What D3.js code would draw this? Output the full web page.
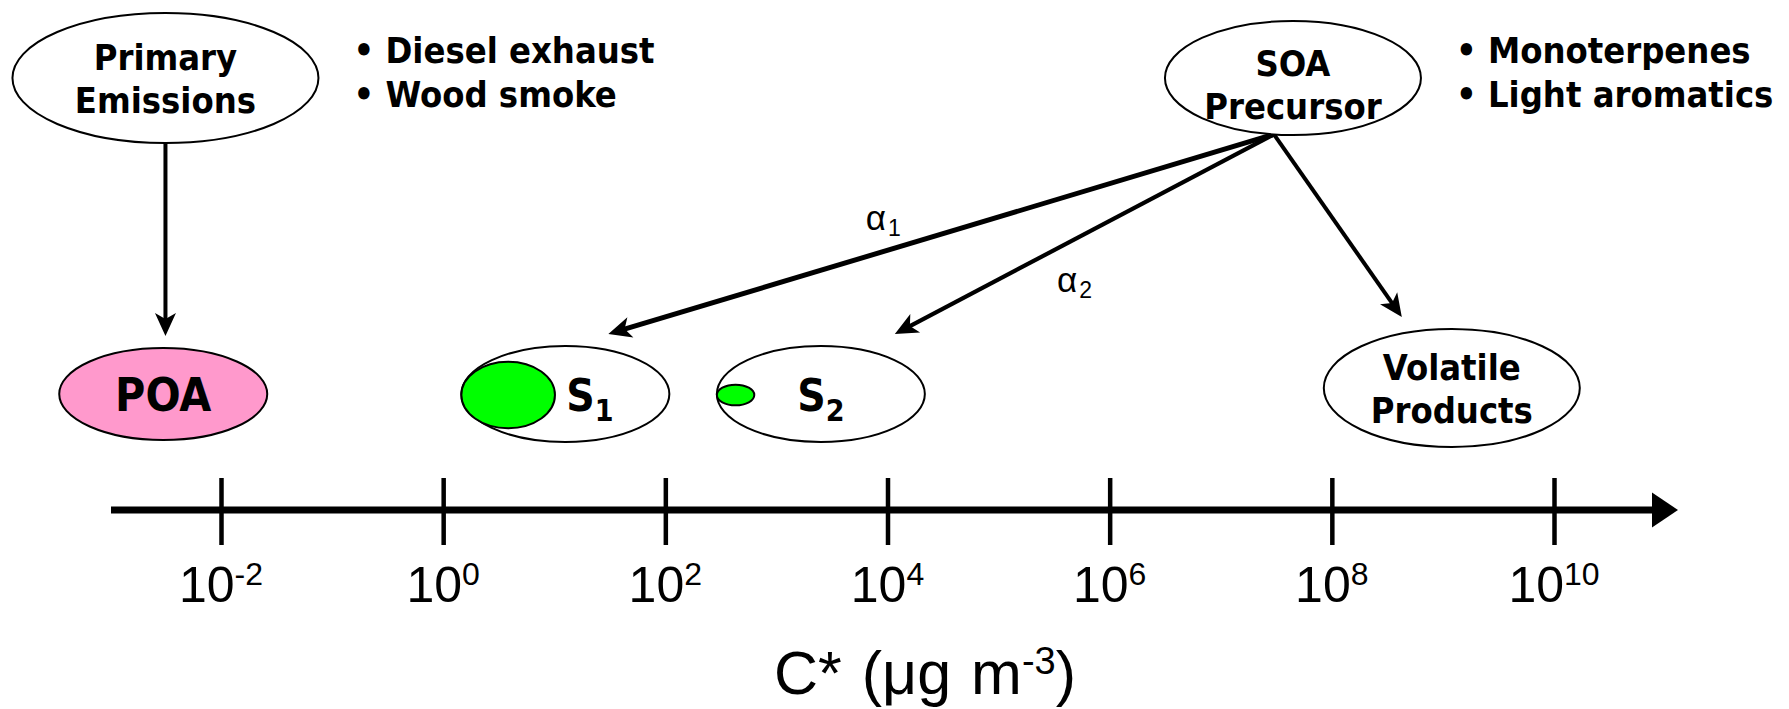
<!DOCTYPE html>
<html><head><meta charset="utf-8">
<script src="https://cdn.jsdelivr.net/npm/d3@7"></script>
<style>body{margin:0;background:#fff}svg{display:block}</style>
</head><body><svg id="c" width="1789" height="709"></svg>
<script>
// ---------- DATA ----------
const tickExponents = [-2, 0, 2, 4, 6, 8, 10];
const tickBase = "10";
const axisTitle = ["C* (\u03bcg m", "-3", ")"];
const nodeNames = ["Primary Emissions", "SOA Precursor", "POA", "S1", "S2", "Volatile Products"];
const nodeLines = [["Primary", "Emissions"], ["SOA", "Precursor"], ["POA"], ["S", "1"], ["S", "2"], ["Volatile", "Products"]];
const nodeLogC = [-2.5, 7.65, -2.52, 1.1, 3.4, 9.08];
const nodeTier = ["source", "source", "aerosol", "aerosol", "aerosol", "gas"];
const condensedRatio = [0, 0, 0, 0.45, 0.18, 0];
const examplesPrimary = ["Diesel exhaust", "Wood smoke"];
const examplesSOA = ["Monoterpenes", "Light aromatics"];
const linkSource = ["Primary Emissions", "SOA Precursor", "SOA Precursor", "SOA Precursor"];
const linkTarget = ["POA", "S1", "S2", "Volatile Products"];
const linkLabel = [null, ["\u03b1", "1"], ["\u03b1", "2"], null];

// ---------- LAYOUT / STYLE ----------
const boldFont = "'DejaVu Sans Condensed','DejaVu Sans',sans-serif";
const axisFont = "'Liberation Sans',Arial,sans-serif";
const svg = d3.select("#c");

const x = d3.scaleLog().domain([1e-2, 1e10]).range([221, 1554]);
const tierY = d3.scaleOrdinal().domain(["source", "aerosol", "gas"]).range([78, 394, 388]);
const axisY = 510;

const size = {
  "Primary Emissions": [153, 65], "SOA Precursor": [128, 57], "POA": [104, 46],
  "S1": [104, 48], "S2": [104, 48], "Volatile Products": [128, 59]
};
const fill = {"POA": "#ff99cc"};
const textDy = {"SOA Precursor": 6};
const startOff = {"Primary Emissions": 0, "SOA Precursor": -19};
const endOff = {"POA": 4, "S1": 43, "S2": 74, "Volatile Products": -50};
const linkWidth = [4, 5, 4.2, 4];
const labelT = [0, 0.587, 0.526, 0];
const labelOff = [0, -22, 53, 0];

const nodes = nodeNames.map((n, i) => ({
  name: n, lines: nodeLines[i], cx: x(Math.pow(10, nodeLogC[i])), cy: tierY(nodeTier[i]),
  rx: size[n][0], ry: size[n][1], ratio: condensedRatio[i]
}));
const byName = Object.fromEntries(nodes.map(d => [d.name, d]));

// marker
svg.append("defs").append("marker")
  .attr("id", "ah").attr("markerUnits", "userSpaceOnUse")
  .attr("viewBox", "-16 -11 26 22").attr("markerWidth", 26).attr("markerHeight", 22)
  .attr("refX", 0).attr("refY", 0).attr("orient", "auto")
  .append("path").attr("d", "M9,0 L-14,-10.5 L-8,0 L-14,10.5 Z").attr("fill", "#000");

// ---------- AXIS ----------
const axisG = svg.append("g").attr("transform", `translate(0,${axisY})`);
const axis = d3.axisBottom(x).tickValues(tickExponents.map(e => Math.pow(10, e))).tickSize(0).tickFormat("");
axisG.call(axis);
axisG.select(".domain").remove();
axisG.append("line").attr("x1", 111).attr("x2", 1656).attr("y1", 0).attr("y2", 0)
  .attr("stroke", "#000").attr("stroke-width", 7);
axisG.append("path").attr("d", "M1652,-17.5 L1678,0 L1652,17.5 Z").attr("fill", "#000");
axisG.selectAll(".tick line").attr("y1", -32).attr("y2", 35).attr("stroke", "#000").attr("stroke-width", 4.5);

const lbl = svg.append("g").selectAll("text").data(tickExponents).join("text")
  .attr("x", e => x(Math.pow(10, e))).attr("y", 602)
  .attr("text-anchor", "middle").attr("font-family", axisFont).attr("font-size", 50).attr("fill", "#000");
lbl.append("tspan").text(tickBase);
lbl.append("tspan").attr("font-size", 32).attr("dy", -17).text(e => e < 0 ? "-" + (-e) : String(e));

const t = svg.append("text").attr("x", 925).attr("y", 694).attr("text-anchor", "middle")
  .attr("font-family", axisFont).attr("font-size", 61).attr("word-spacing", 3).attr("fill", "#000");
t.append("tspan").text(axisTitle[0]);
t.append("tspan").attr("font-size", 38).attr("dy", -20).text(axisTitle[1]);
t.append("tspan").attr("dy", 20).text(axisTitle[2]);

// ---------- LINKS ----------
linkSource.forEach((s, i) => {
  const a = byName[s], b = byName[linkTarget[i]];
  const x1 = a.cx + startOff[s], y1 = a.cy + a.ry * Math.sqrt(1 - Math.pow(startOff[s] / a.rx, 2));
  const tx = (s === "Primary Emissions") ? a.cx : b.cx + endOff[b.name];
  const ty = b.cy - b.ry - 12;
  const dx = tx - x1, dy = ty - y1, L = Math.hypot(dx, dy);
  svg.append("line").attr("x1", x1).attr("y1", y1)
    .attr("x2", tx - dx / L * 9).attr("y2", ty - dy / L * 9)
    .attr("stroke", "#000").attr("stroke-width", linkWidth[i])
    .attr("marker-end", "url(#ah)");
  if (linkLabel[i]) {
    const lx = x1 + dx * labelT[i], ly = y1 + dy * labelT[i] + labelOff[i];
    const tt = svg.append("text").attr("x", lx).attr("y", ly)
      .attr("text-anchor", "middle").attr("font-family", axisFont).attr("font-size", 35).attr("fill", "#000");
    tt.append("tspan").text(linkLabel[i][0]);
    tt.append("tspan").attr("font-size", 23).attr("dx", 2).attr("dy", 6).text(linkLabel[i][1]);
  }
});

// ---------- NODES ----------
const g = svg.append("g").selectAll("g").data(nodes).join("g");
g.append("ellipse").attr("cx", d => d.cx).attr("cy", d => d.cy).attr("rx", d => d.rx).attr("ry", d => d.ry)
  .attr("fill", d => fill[d.name] || "#fff").attr("stroke", "#000").attr("stroke-width", 2);
g.filter(d => d.ratio > 0).append("ellipse")
  .attr("cx", d => d.cx - d.rx + d.rx * d.ratio).attr("cy", d => d.cy + 1)
  .attr("rx", d => d.rx * d.ratio).attr("ry", d => d.rx * d.ratio * (d.ratio > 0.3 ? 0.71 : 0.55))
  .attr("fill", "#00ff00").attr("stroke", "#000").attr("stroke-width", 2);

g.each(function (d) {
  const s = d3.select(this);
  const ddy = textDy[d.name] || 0;
  if (d.name === "S1" || d.name === "S2") {
    const greenRight = d.cx - d.rx + 2 * d.rx * d.ratio;
    const cx = Math.max(d.cx, greenRight + 35);
    const tt = s.append("text").attr("x", cx).attr("y", d.cy + 17).attr("text-anchor", "middle")
      .attr("font-family", boldFont).attr("font-weight", "bold").attr("font-size", 44).attr("fill", "#000");
    tt.append("tspan").text(d.lines[0]);
    tt.append("tspan").attr("font-size", 30).attr("dy", 10).text(d.lines[1]);
  } else if (d.lines.length === 1) {
    s.append("text").attr("x", d.cx).attr("y", d.cy + 17).attr("text-anchor", "middle")
      .attr("font-family", boldFont).attr("font-weight", "bold").attr("font-size", 46).attr("fill", "#000")
      .text(d.lines[0]);
  } else {
    s.selectAll("text").data(d.lines).join("text")
      .attr("x", d.cx).attr("y", (l, i) => d.cy - 8 + ddy + i * 43).attr("text-anchor", "middle")
      .attr("font-family", boldFont).attr("font-weight", "bold").attr("font-size", 36).attr("fill", "#000")
      .text(l => l);
  }
});

// ---------- EXAMPLE LISTS ----------
[[byName["Primary Emissions"], examplesPrimary], [byName["SOA Precursor"], examplesSOA]].forEach(([n, list]) => {
  svg.append("g").selectAll("text").data(list).join("text")
    .attr("x", n.cx + n.rx + 35).attr("y", (l, i) => n.cy - 15 + i * 44)
    .attr("font-family", boldFont).attr("font-weight", "bold").attr("font-size", 36).attr("fill", "#000")
    .text(l => "\u2022 " + l);
});
</script></body></html>
